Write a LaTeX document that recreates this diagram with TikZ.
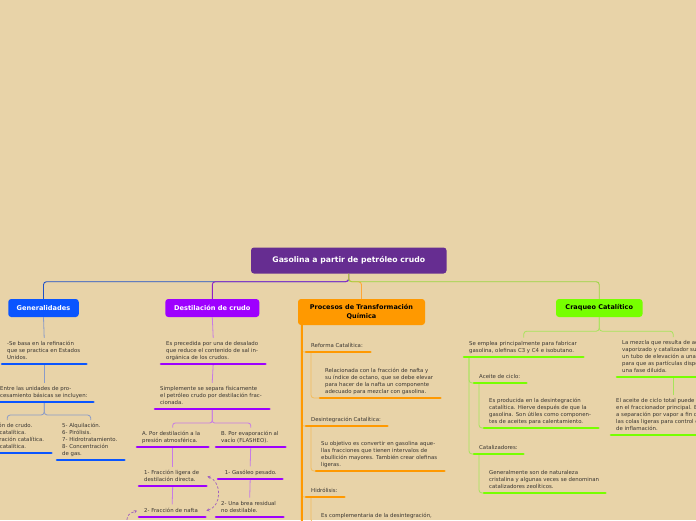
\documentclass[tikz,border=0pt]{standalone}
\usepackage{fontspec}
\setmainfont{DejaVu Sans}
\usetikzlibrary{arrows.meta}
\definecolor{bg}{HTML}{E8D3A8}
\definecolor{txt}{HTML}{3A3632}
\definecolor{rootc}{HTML}{662D91}
\definecolor{genc}{HTML}{0A55FF}
\definecolor{destc}{HTML}{9E00FF}
\definecolor{procc}{HTML}{FF9900}
\definecolor{craqc}{HTML}{77FF00}
\definecolor{genl}{HTML}{8A9BC8}
\definecolor{destl}{HTML}{C67AE6}
\definecolor{procl}{HTML}{F3BC5C}
\definecolor{craql}{HTML}{A6E45A}
\definecolor{genr}{HTML}{1E50C8}
\definecolor{destr}{HTML}{9020C8}
\definecolor{procr}{HTML}{FFA636}
\definecolor{craqr}{HTML}{9AD642}
\definecolor{relc}{HTML}{A060C0}
\newcommand\tx[2]{\makebox[#1pt][l]{\begin{tabular}{@{}l@{}}#2\end{tabular}}}
\begin{document}
\begin{tikzpicture}[x=1pt,y=-1pt,
  hb/.style={rounded corners=3pt, inner sep=0pt, font=\bfseries\fontsize{6.6}{8}\selectfont},
  tp/.style={anchor=south west, inner xsep=5pt, inner ysep=2.7pt, font=\fontsize{5.4}{6.8}\selectfont, text=txt},
  ul/.style={line width=2.6pt, line cap=round},
  thin/.style={line width=0.8pt},
  rootln/.style={line width=0.9pt, rounded corners=3pt},
  rel/.style={draw=relc, line width=0.7pt, dashed, dash pattern=on 2.5pt off 1.8pt},
  tip/.style={Stealth[length=3pt,width=3.2pt]}
]
\fill[bg] (0,0) rectangle (696,520);
\useasboundingbox (0,0) rectangle (696,520);

% heading boxes
\node[hb, fill=rootc, text=white, minimum width=195.5pt, minimum height=26pt, font=\bfseries\fontsize{7.7}{9}\selectfont] (root) at (348.75,260.5) {Gasolina a partir de petróleo crudo};
\node[hb, fill=genc, text=white, minimum width=70.5pt, minimum height=18pt] (gen) at (43.5,308) {Generalidades};
\node[hb, fill=destc, text=white, minimum width=94pt, minimum height=18pt] (dest) at (212.3,308) {Destilación de crudo};
\node[hb, fill=procc, text=black, minimum width=127pt, minimum height=26pt, align=center, font=\bfseries\fontsize{6.5}{8.4}\selectfont] (proc) at (361.5,312) {Procesos de Transformación\\Química};
\node[hb, fill=craqc, text=black, minimum width=86.5pt, minimum height=18pt, font=\bfseries\fontsize{6.5}{8}\selectfont] (craq) at (599.25,308) {Craqueo Catalítico};

% Generalidades topics
\node[tp] (g1) at (2,364) {\tx{74}{-Se basa en la refinación\\que se practica en Estados\\Unidos.}};
\node[tp] (g2) at (-5,402) {\tx{88}{Entre las unidades de pro-\\cesamiento básicas se incluyen:}};
\node[tp] (g3) at (-37,453) {\tx{78}{1- Destilación de crudo.\\2- Reforma catalítica.\\3- Desintegración catalítica.\\4- Craqueo catalítica.}};
\node[tp] (g4) at (57,460) {\tx{57}{5- Alquilación.\\6- Pirólisis.\\7- Hidrotratamiento.\\8- Concentración\\de gas.}};

% Destilacion topics
\node[tp] (d1) at (161,364) {\tx{94}{Es precedida por una de desalado\\que reduce el contenido de sal in-\\orgánica de los crudos.}};
\node[tp] (d2) at (155,409) {\tx{104}{Simplemente se separa físicamente\\el petróleo crudo por destilación frac-\\cionada.}};
\node[tp] (dA) at (137,447) {\tx{61}{A. Por destilación a la\\presión atmosférica.}};
\node[tp] (dB) at (216,447) {\tx{59}{B. Por evaporación al\\vacío (FLASHEO).}};
\node[tp] (dA1) at (139,486) {\tx{57}{1- Fracción ligera de\\destilación directa.}};
\node[tp] (dA2) at (139,517) {\tx{56}{2- Fracción de nafta}};
\node[tp] (dB1) at (218,479) {\tx{54}{\ 1- Gasóleo pesado.}};
\node[tp] (dB2) at (216,517) {\tx{57}{2- Una brea residual\\no destilable.}};

% Procesos topics
\node[tp] (p1) at (306,352) {\tx{54}{Reforma Catalítica:}};
\node[tp] (p1a) at (320,398) {\tx{110}{Relacionada con la fracción de nafta y\\su índice de octano, que se debe elevar\\para hacer de la nafta un componente\\adecuado para mezclar con gasolina.}};
\node[tp] (p2) at (306,426) {\tx{71}{Desintegración Catalítica:}};
\node[tp] (p2a) at (316,471) {\tx{118}{Su objetivo es convertir en gasolina aque-\\llas fracciones que tienen intervalos de\\ebullición mayores. También crear olefinas\\ligeras.}};
\node[tp] (p3) at (306,497) {\tx{28}{Hidrólisis:}};
\node[tp] (p3a) at (316,522.5) {\tx{118}{Es complementaria de la desintegración,}};

% Craqueo topics
\node[tp] (c1) at (464,357) {\tx{109}{Se emplea principalmente para fabricar\\gasolina, olefinas C3 y C4 e isobutano.}};
\node[tp] (c2) at (617,377) {\tx{102}{La mezcla que resulta de aceite\\vaporizado y catalizador sube por\\un tubo de elevación a una zona\\para que as partículas dispersas\\una fase diluida.}};
\node[tp] (c3) at (611,435) {\tx{114}{El aceite de ciclo total puede ser\\en el fraccionador principal. El\\a separación por vapor a fin de\\las colas ligeras para control del\\de inflamación.}};
\node[tp] (c1a) at (474,383) {\tx{42}{Aceite de ciclo:}};
\node[tp] (c1a1) at (484,428) {\tx{104}{Es producida en la desintegración\\catalítica. Hierve después de que la\\gasolina. Son útiles como componen-\\tes de aceites para calentamiento.}};
\node[tp] (c1b) at (474,454) {\tx{39}{Catalizadores:}};
\node[tp] (c1b1) at (484,493) {\tx{111}{Generalmente son de naturaleza\\cristalina y algunas veces se denominan\\catalizadores zeolíticos.}};

% root connectors
\draw[rootln, genr] (root.south) -- ++(0,8) -| (gen.north);
\draw[rootln, destr] (root.south) -- ++(0,8) -| (dest.north);
\draw[rootln, procr] (root.south) -- ++(0,8) -| (proc.north);
\draw[rootln, craqr] (root.south) -- ++(0,8) -| (craq.north);

% Generalidades connectors
\draw[thin, genl] (gen.south) -- (g1.north);
\draw[thin, genl] (g1.south) -- (g2.north);
\draw[thin, genl, rounded corners=3pt] (g2.south) -- ++(0,13) -| (g3.north);
\draw[thin, genl, rounded corners=3pt] (g2.south) -- ++(0,13) -| (g4.north);

% Destilacion connectors
\draw[thin, destl] (dest.south) -- (d1.north);
\draw[thin, destl] (d1.south) -- (d2.north);
\draw[thin, destl, rounded corners=2.5pt] (d2.south) -- ++(0,14) -| (dA.north);
\draw[thin, destl, rounded corners=2.5pt] (d2.south) -- ++(0,14) -| (dB.north);
\draw[thin, destl] (dA.south) -- (dA1.north);
\draw[thin, destl] (dA1.south) -- (dA2.north);
\draw[thin, destl] (dB.south) -- (dB1.north);
\draw[thin, destl] (dB1.south) -- (dB2.north);

% Procesos connectors
\coordinate (ptop) at ([xshift=4pt]proc.south west);
\coordinate (pend) at (302,530);
\draw[thin, procl, rounded corners=2pt] (ptop) |- (p1.south west);
\draw[thin, procl, rounded corners=2pt] (ptop) |- (p2.south west);
\draw[thin, procl, rounded corners=2pt] (ptop) |- (p3.south west);
\draw[line width=2pt, procc] (ptop) -- (pend);
\draw[thin, procl, rounded corners=3pt] ([xshift=5pt]p1.south west) |- (p1a.south west);
\draw[thin, procl, rounded corners=3pt] ([xshift=5pt]p2.south west) |- (p2a.south west);
\draw[thin, procl, rounded corners=3pt] ([xshift=5pt]p3.south west) |- (p3a.south west);

% Craqueo connectors
\draw[thin, craql, rounded corners=3pt] (craq.south) -- ++(0,14) -| (c1.north);
\draw[thin, craql, rounded corners=3pt] (craq.south) -- ++(0,14) -| (c2.north);
\draw[thin, craql] (c2.south) -- (c3.north);
\draw[thin, craql, rounded corners=3pt] ([xshift=5pt]c1.south west) |- (c1a.south west);
\draw[thin, craql, rounded corners=3pt] ([xshift=5pt]c1.south west) |- (c1b.south west);
\draw[thin, craql, rounded corners=3pt] ([xshift=5pt]c1a.south west) |- (c1a1.south west);
\draw[thin, craql, rounded corners=3pt] ([xshift=5pt]c1b.south west) |- (c1b1.south west);

% underlines
\foreach \n in {g1,g2,g3,g4} \draw[ul, genc] (\n.south west) -- (\n.south east);
\foreach \n in {d1,d2,dA,dB,dA1,dA2,dB1,dB2} \draw[ul, destc] (\n.south west) -- (\n.south east);
\foreach \n in {p1,p1a,p2,p2a,p3,p3a} \draw[ul, procc] (\n.south west) -- (\n.south east);
\foreach \n in {c1,c2,c3,c1a,c1a1,c1b,c1b1} \draw[ul, craqc] (\n.south west) -- (\n.south east);

% relationships
\draw[rel, {Stealth[length=3pt,width=3.2pt]}-{Stealth[length=3pt,width=3.2pt]}] ([xshift=1pt]dA1.east) .. controls (222,482) and (222,506) .. ([xshift=1pt]dA2.east);
\coordinate (relfree) at (126,524);
\draw[rel, -{Stealth[length=3pt,width=3.2pt]}] (relfree) .. controls (128,514) .. ([xshift=-2pt]dA2.west);
\end{tikzpicture}
\end{document}
